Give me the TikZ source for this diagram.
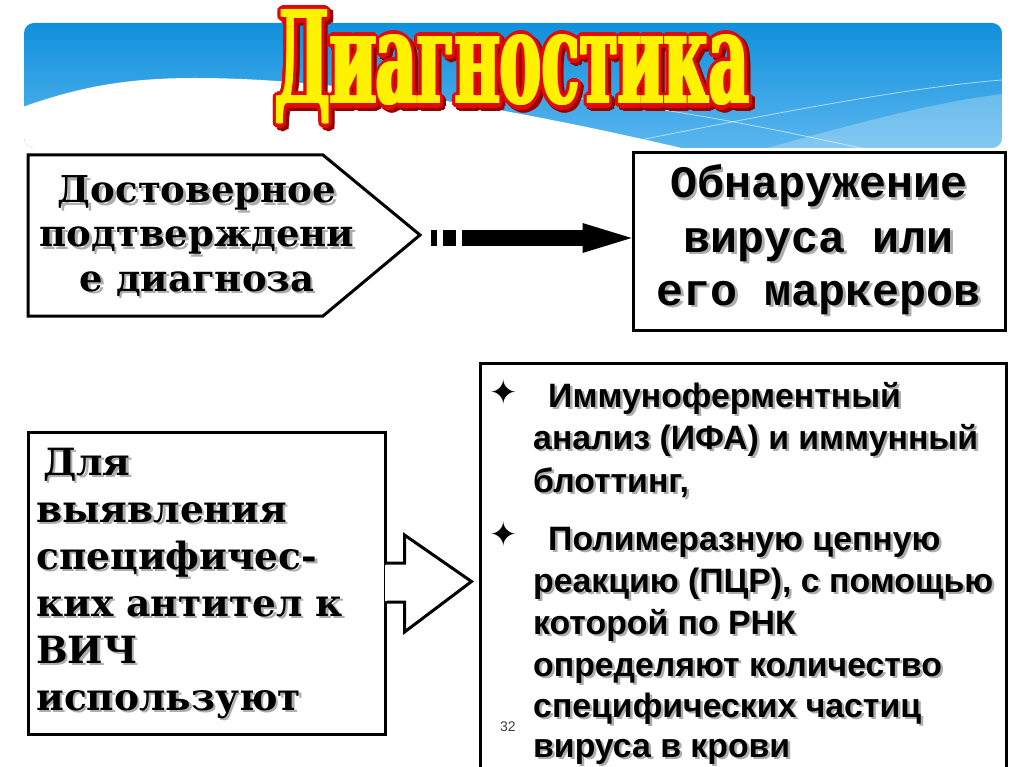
\documentclass[tikz,border=0pt]{standalone}
\usepackage{fontspec}
\setmainfont{DejaVu Serif}
\newfontfamily\monob{Liberation Mono}
\newfontfamily\arialb{Liberation Sans}
\newfontfamily\symf{DejaVu Sans}
\usetikzlibrary{calc}
\definecolor{bannertop}{RGB}{16,144,220}
\definecolor{bannerbot}{RGB}{90,182,238}
\definecolor{ttlred}{RGB}{225,10,10}
\definecolor{ttldark}{RGB}{150,0,0}
\newcommand{\shline}[5]{%
  \node[#4, text=black!32] (#1s) at (#2+2.5,#3+2.5) {#5};
  \node[#4] (#1) at (#2,#3) {#5};}
\newcommand{\ttl}{\resizebox{474pt}{94pt}{\bfseries Диагностика}}
\begin{document}
\begin{tikzpicture}[x=1pt,y=-1pt,
  frame/.style={draw=black, line width=3pt, inner sep=0pt},
  txt/.style={inner sep=0pt, anchor=base},
  ttlstyle/.style={anchor=base west, inner sep=0pt},
  pent/.style={txt, font=\fontsize{37}{40}\selectfont\bfseries},
  mono/.style={txt, font=\monob\fontsize{45}{50}\selectfont\bfseries},
  lft/.style={txt, anchor=base west, font=\fontsize{37.5}{40}\selectfont\bfseries},
  ar/.style={txt, anchor=base west, font=\arialb\fontsize{33.8}{40}\selectfont\bfseries},
  star/.style={inner sep=0pt, anchor=base west, font=\symf\fontsize{34}{34}\selectfont}]
\useasboundingbox[fill=white] (0,0) rectangle (1024,767);

% banner
\begin{scope}
\clip[rounded corners=10pt] (24,23) rectangle (1002,148);
\shade[top color=bannertop, bottom color=bannerbot] (24,23) rectangle (1002,148);
\fill[white, opacity=0.25] (760,150) .. controls (850,125) and (930,103) .. (1002,94) -- (1002,150) -- cycle;
\draw[white, opacity=0.6, line width=0.8pt] (560,96) .. controls (700,112) and (800,135) .. (870,150);
\draw[white, opacity=0.6, line width=0.8pt] (590,150) .. controls (750,118) and (900,88) .. (1002,80);
\fill[white] (20,108) .. controls (80,86) and (130,78) .. (195,78) .. controls (340,78) and (520,110) .. (690,150) -- (20,150) -- cycle;
\end{scope}

% title
\coordinate (tpos) at (275,104);
\foreach \a in {0,30,...,330}
  \node[ttlstyle, text=ttldark] (tsh\a) at ($(tpos)+(3,3)+(\a:4.5)$) {\ttl};
\foreach \a in {0,20,...,340}
  \node[ttlstyle, text=ttlred] (tr\a) at ($(tpos)+(\a:4.5)$) {\ttl};
\foreach \dx in {-1.6,-0.8,0,0.8,1.6}
  \node[ttlstyle, text=yellow] (ty\dx) at ($(tpos)+(\dx,0)$) {\ttl};

% pentagon
\draw[frame, line join=miter] (28,155) -- (323,155) -- (420,235) -- (323,316) -- (28,316) -- cycle;
\coordinate (ptip) at (420,235);
\shline{p1}{197}{203}{pent}{Достоверное}
\shline{p2}{197}{247}{pent}{подтверждени}
\shline{p3}{197}{291}{pent}{е диагноза}

% top right box
\node[frame, minimum width=372pt, minimum height=177pt] (obn) at (819,241.5) {};
\shline{o1}{819}{198}{mono}{Обнаружение}
\shline{o2}{819}{252}{mono}{вируса или}
\shline{o3}{819}{305}{mono}{его маркеров}

% top arrow
\coordinate (atip) at ($(obn.west)+(0,-3.5)$);
\fill[black] (atip) -- ($(atip)+(-49,-15)$) -- ($(atip)+(-49,15)$) -- cycle;
\fill[black] ($(atip)+(-49,-7.5)$) rectangle ($(atip)+(-170,7.5)$);
\fill[black] ($(atip)+(-176,-7.5)$) rectangle ($(atip)+(-189,7.5)$);
\fill[black] ($(atip)+(-195,-7.5)$) rectangle ($(atip)+(-201,7.5)$);

% bottom boxes
\node[frame, minimum width=357pt, minimum height=302pt] (lbox) at (206.5,583) {};
\node[frame, minimum width=526pt, minimum height=437pt] (meth) at (743,581.5) {};

% block arrow
\fill[white] ($(lbox.east)+(-2,-18.5)$) rectangle ($(lbox.east)+(5,17.5)$);
\draw[line width=3pt, fill=white, line join=miter]
  ($(lbox.east)+(0,-20)$) -- ($(lbox.east)+(18,-20)$) -- ($(lbox.east)+(18,-48)$)
  -- ($(meth.west)+(-7,0)$) -- ($(lbox.east)+(18,49)$) -- ($(lbox.east)+(18,19)$)
  -- ($(lbox.east)+(0,19)$);

% left text
\shline{l1}{43}{475}{lft}{Для}
\shline{l2}{36}{522}{lft}{выявления}
\shline{l3}{36}{569}{lft}{специфичес-}
\shline{l4}{36}{616}{lft}{ких антител к}
\shline{l5}{36}{663}{lft}{ВИЧ}
\shline{l6}{36}{710}{lft}{используют}

% right text
\node[star] (b1) at (489,404) {✦};
\node[star] (b2) at (489,546) {✦};
\shline{r1}{548}{407}{ar}{Иммуноферментный}
\shline{r2}{533}{449}{ar}{анализ (ИФА) и иммунный}
\shline{r3}{533}{492}{ar}{блоттинг,}
\shline{r4}{548}{550}{ar}{Полимеразную цепную}
\shline{r5}{533}{592}{ar}{реакцию (ПЦР), с помощью}
\shline{r6}{533}{634}{ar}{которой по РНК}
\shline{r7}{533}{676}{ar}{определяют количество}
\shline{r8}{533}{717}{ar}{специфических частиц}
\shline{r9}{533}{757}{ar}{вируса в крови}
\node[inner sep=0pt, anchor=base west, text=black!75, font=\arialb\fontsize{14}{14}\selectfont] (pg) at (500,731) {32};
\end{tikzpicture}
\end{document}
